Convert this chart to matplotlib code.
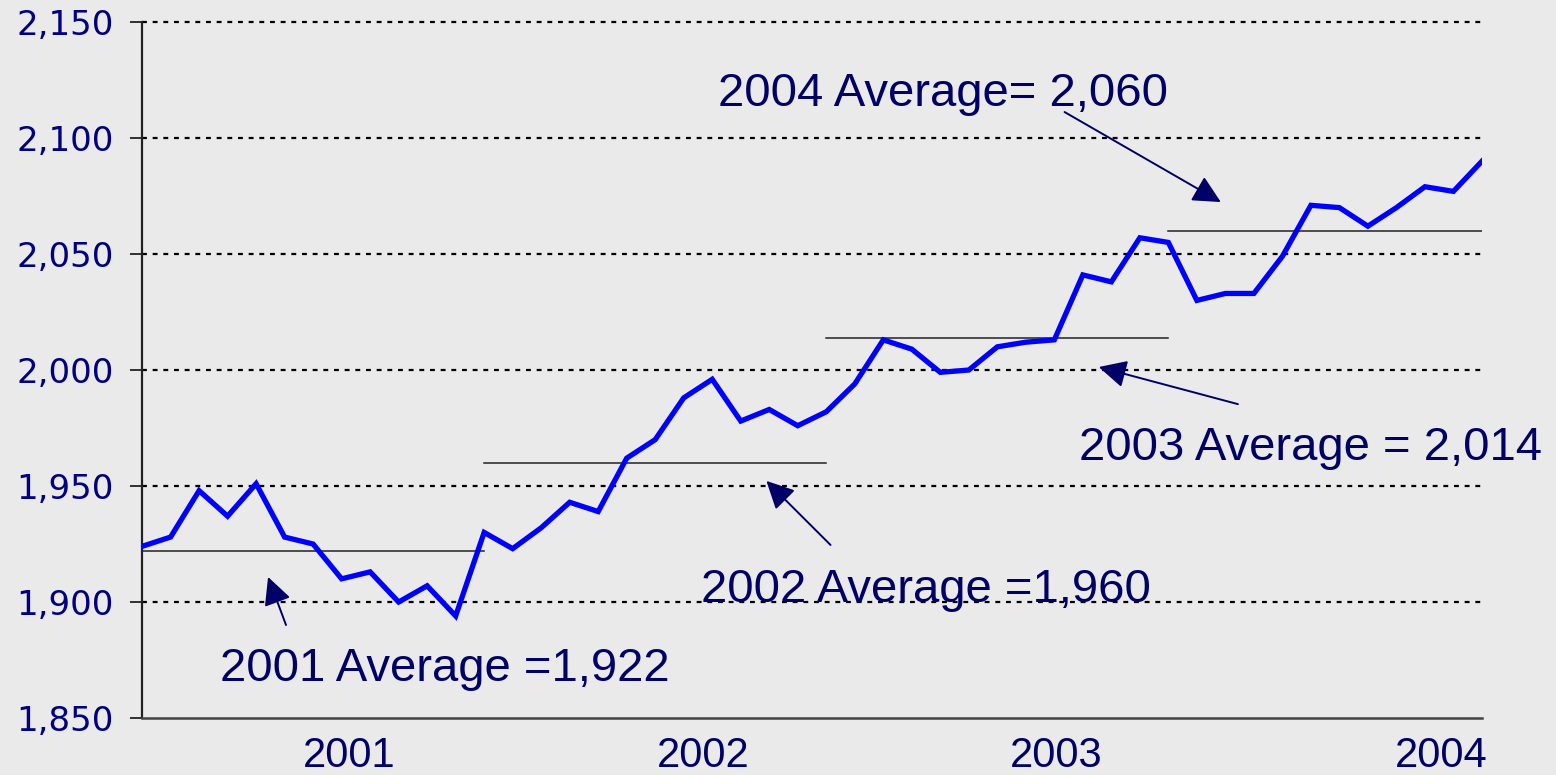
import matplotlib
matplotlib.use("Agg")
import matplotlib.pyplot as plt
from matplotlib.ticker import FuncFormatter

# monthly series, 48 points
values = [
    1924, 1928, 1948, 1937, 1951, 1928, 1925, 1910, 1913, 1900, 1907, 1894,
    1930, 1923, 1932, 1943, 1939, 1962, 1970, 1988, 1996, 1978, 1983, 1976,
    1982, 1994, 2013, 2009, 1999, 2000, 2010, 2012, 2013, 2041, 2038, 2057,
    2055, 2030, 2033, 2033, 2049, 2071, 2070, 2062, 2070, 2079, 2077, 2090,
]
year_labels = ["2001", "2002", "2003", "2004"]
year_label_pos = [7.27, 19.69, 32.08, 45.56]

avg_values = [1922, 1960, 2014, 2060]
avg_start = [0, 12, 24, 36]
avg_end = [12, 24, 36, 47]

avg_texts = ["2001 Average =1,922", "2002 Average =1,960",
             "2003 Average = 2,014", "2004 Average= 2,060"]
avg_text_pos = [(10.62, 1866.0), (27.48, 1900.0), (40.98, 1961.2), (28.08, 2113.8)]
arrow_tails = [(5.05, 1890.1), (24.15, 1924.6), (38.44, 1985.3), (32.36, 2111.2)]
arrow_tips = [(4.42, 1910.8), (21.90, 1952.2), (33.56, 2001.3), (37.84, 2072.4)]

yticks = [1850, 1900, 1950, 2000, 2050, 2100, 2150]

bg = "#EAEAEA"
navy = "#000066"

fig = plt.figure(figsize=(15.56, 7.75), dpi=100, facecolor=bg)
ax = fig.add_axes([0.0913, 0.0735, 0.8611, 0.8981], facecolor=bg)

x = list(range(len(values)))

# dotted grid lines
for yv in yticks[1:]:
    ax.axhline(yv, color="black", lw=1.6, ls=(0, (2.2, 2.6)), zorder=1, clip_on=False)

# yearly averages
for v, s, e in zip(avg_values, avg_start, avg_end):
    ax.plot([s, e], [v, v], color="#222222", lw=1.1, zorder=2)

ax.plot(x, values, color="#0000FF", lw=3.8, solid_joinstyle="miter", zorder=3)

for txt, (tx, ty), tail, tip in zip(avg_texts, avg_text_pos, arrow_tails, arrow_tips):
    ax.text(tx, ty, txt, ha="center", va="baseline", fontsize=34,
            family="Liberation Sans", color=navy)
    ax.annotate("", xy=tip, xytext=tail,
                arrowprops=dict(arrowstyle="-|>,head_length=1.7,head_width=0.85",
                                mutation_scale=10, color=navy, lw=1.4,
                                shrinkA=0, shrinkB=0))

ax.set_xlim(0, len(values) - 1)
ax.set_ylim(1850, 2150)
ax.set_yticks(yticks)
ax.yaxis.set_major_formatter(FuncFormatter(lambda v, p: f"{int(v):,}"))
ax.set_xticks(year_label_pos)
ax.set_xticklabels(year_labels)

for lab in ax.get_yticklabels():
    lab.set_family("DejaVu Sans")
    lab.set_fontsize(24.5)
    lab.set_color("#000080")
for lab in ax.get_xticklabels():
    lab.set_family("Liberation Sans")
    lab.set_fontsize(30)
    lab.set_color(navy)

ax.tick_params(axis="y", direction="out", length=8.6, width=1.3, pad=12, color="#222222")
ax.tick_params(axis="x", length=0, pad=13)

for side in ["top", "right"]:
    ax.spines[side].set_visible(False)
ax.spines["left"].set_linewidth(1.6)
ax.spines["left"].set_color("#222222")
ax.spines["bottom"].set_linewidth(1.8)
ax.spines["bottom"].set_color("#444444")

fig.savefig("out.png", dpi=100, facecolor=bg)
